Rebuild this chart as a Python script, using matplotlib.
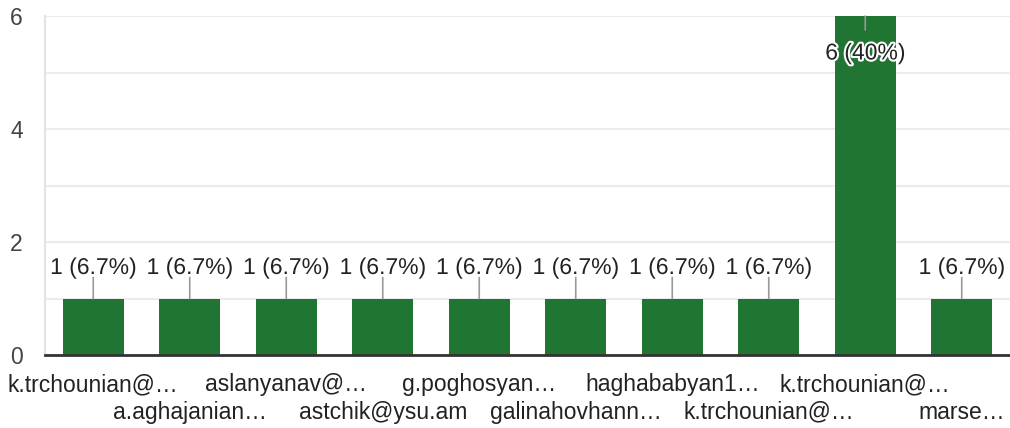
import matplotlib
matplotlib.use("Agg")
import matplotlib.pyplot as plt
import matplotlib.patheffects as pe

categories = ["k.trchounian@…", "a.aghajanian…", "aslanyanav@…", "astchik@ysu.am",
              "g.poghosyan…", "galinahovhann…", "haghababyan1…", "k.trchounian@…",
              "k.trchounian@…", "marse…"]
values = [1, 1, 1, 1, 1, 1, 1, 1, 6, 1]
labels = ["1 (6.7%)"] * 8 + ["6 (40%)", "1 (6.7%)"]
yticks = [0, 2, 4, 6]

plt.rcParams['font.family'] = ['Liberation Sans', 'DejaVu Sans']
fig = plt.figure(figsize=(10.10, 4.28), dpi=100)
ax = fig.add_axes([45/1010, 1-355/428, 1-45/1010, (355-16)/428])

bar_color = '#207533'
x = list(range(len(values)))
ax.bar(x, values, width=0.63, color=bar_color, zorder=3)
ax.set_xlim(-0.5, len(values) - 0.5)
ax.set_ylim(0, 6)

ax.set_yticks(yticks)
ax.set_yticks([1, 3, 5], minor=True)
ax.yaxis.grid(True, which='both', color='#ebebeb', lw=1.5, zorder=0)
ax.tick_params(axis='y', which='both', length=0, pad=16, labelsize=16.5, labelcolor='#444444')

ax.set_xticks(x)
ax.set_xticklabels(categories, fontsize=16.5, color='#222222')
ax.tick_params(axis='x', length=0)
for i, t in enumerate(ax.xaxis.get_major_ticks()):
    t.set_pad(13 if i % 2 == 0 else 33)

for s in ['top', 'right']:
    ax.spines[s].set_visible(False)
ax.spines['left'].set_color('#e3e3e3')
ax.spines['left'].set_linewidth(1.5)
ax.spines['bottom'].set_color('#333333')
ax.spines['bottom'].set_linewidth(2)
ax.spines['bottom'].set_zorder(4)

ymax = max(values)
for i, (v, lab) in enumerate(zip(values, labels)):
    if v >= ymax * 0.9:
        line_end, text_off = -14, -37
    else:
        line_end, text_off = 21, 31
    ax.annotate('', xy=(i, v), xytext=(0, line_end), textcoords='offset pixels',
                arrowprops=dict(arrowstyle='-', color='#999999', lw=1.2,
                                shrinkA=0, shrinkB=0), zorder=5, annotation_clip=False)
    ax.annotate(lab, xy=(i, v), xytext=(0, text_off), textcoords='offset pixels',
                ha='center', va='center', fontsize=16.5, color='#222222', zorder=6,
                annotation_clip=False,
                path_effects=[pe.withStroke(linewidth=3, foreground='white')])

fig.savefig('out.png', dpi=100)
